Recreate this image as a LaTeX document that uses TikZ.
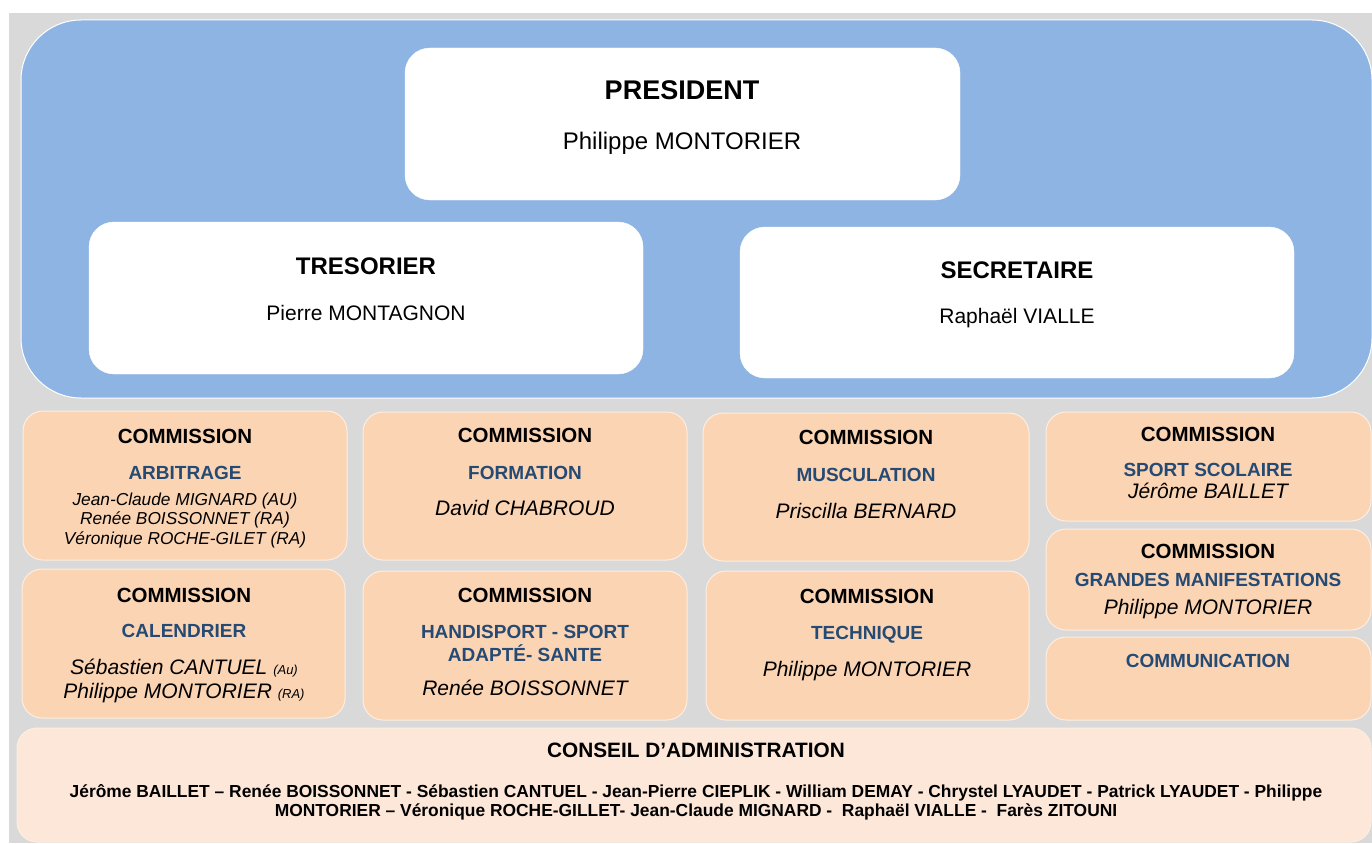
\documentclass[tikz,border=0pt]{standalone}
\usepackage{fontspec}
\setmainfont{Liberation Sans}
\usetikzlibrary{positioning}

\definecolor{bggray}{HTML}{D9D9D9}
\definecolor{boardblue}{HTML}{8EB4E3}
\definecolor{comorange}{HTML}{FBD4B4}
\definecolor{calight}{HTML}{FDE7D9}
\definecolor{navy}{HTML}{254A73}

\tikzset{
  wbox/.style={draw=white, fill=white, rounded corners=25pt},
  cbox/.style={draw=white!60!comorange, line width=1pt, fill=comorange, rounded corners=20pt},
  ttl/.style={anchor=base, font=\fontsize{20.5}{24}\selectfont\bfseries},
  sub/.style={anchor=base, text=navy, font=\fontsize{19}{23}\selectfont\bfseries},
  who/.style={anchor=base, font=\fontsize{21}{25}\selectfont\itshape},
  small/.style={anchor=base, font=\fontsize{17.3}{20}\selectfont\itshape},
  members/.style={anchor=base, font=\fontsize{17.4}{19}\selectfont\bfseries},
}

\begin{document}
\begin{tikzpicture}[x=1pt, y=-1pt, every node/.style={inner sep=0pt}]
    \useasboundingbox (0,0) rectangle (1372,843);
    \fill[white] (0,0) rectangle (1372,843);
    \fill[bggray] (9,13) rectangle (1372,843);

    % Bureau
    \node (board) [draw=white, line width=1pt, fill=boardblue, rounded corners=60pt,
        minimum width=1351pt, minimum height=378pt] at (696.5,209) {};
    % Top node
    \node (president) [wbox, minimum width=555pt, minimum height=152pt] at (682.5,124) {};
    \node (president-t) [anchor=base, font=\fontsize{27}{32}\selectfont\bfseries] at (682,99) {PRESIDENT};
    \node (president-n) [anchor=base, font=\fontsize{24}{28}\selectfont] at (682,149) {Philippe MONTORIER};
    % Left node
    \node (tresorier) [wbox, minimum width=554pt, minimum height=152pt] at (366,298) {};
    \node (tresorier-t) [anchor=base, font=\fontsize{24}{28}\selectfont\bfseries] at (366,274) {TRESORIER};
    \node (tresorier-n) [anchor=base, font=\fontsize{21}{25}\selectfont] at (366,320) {Pierre MONTAGNON};
    % Right node
    \node (secretaire) [wbox, minimum width=554pt, minimum height=151pt] at (1017,302.5) {};
    \node (secretaire-t) [anchor=base, font=\fontsize{24}{28}\selectfont\bfseries] at (1017,278) {SECRETAIRE};
    \node (secretaire-n) [anchor=base, font=\fontsize{21}{25}\selectfont] at (1017,323) {Raphaël VIALLE};

    % Commissions, first row
    \node (arbitrage) [cbox, minimum width=324pt, minimum height=149pt] at (185,485.5) {};
    \node (arbitrage-t) [ttl] at (185,443) {COMMISSION};
    \node (arbitrage-s) [sub] at (185,479) {ARBITRAGE};
    \node (arbitrage-n1) [small] at (185,505) {Jean-Claude MIGNARD (AU)};
    \node (arbitrage-n2) [small] at (185,524) {Renée BOISSONNET (RA)};
    \node (arbitrage-n3) [small] at (185,544) {Véronique ROCHE-GILET (RA)};

    \node (formation) [cbox, minimum width=324pt, minimum height=148pt] at (525,486) {};
    \node (formation-t) [ttl] at (525,442) {COMMISSION};
    \node (formation-s) [sub] at (525,479) {FORMATION};
    \node (formation-n) [who] at (525,515) {David CHABROUD};

    \node (musculation) [cbox, minimum width=326pt, minimum height=148pt] at (866,487) {};
    \node (musculation-t) [ttl] at (866,444) {COMMISSION};
    \node (musculation-s) [sub] at (866,481) {MUSCULATION};
    \node (musculation-n) [who] at (866,518) {Priscilla BERNARD};

    % Commissions, right column
    \node (scolaire) [cbox, minimum width=325pt, minimum height=109pt] at (1208.5,466.5) {};
    \node (scolaire-t) [ttl] at (1208,441) {COMMISSION};
    \node (scolaire-s) [sub] at (1208,476) {SPORT SCOLAIRE};
    \node (scolaire-n) [who] at (1208,498) {Jérôme BAILLET};

    \node (manif) [cbox, minimum width=325pt, minimum height=101pt] at (1208.5,579.5) {};
    \node (manif-t) [ttl] at (1208,558) {COMMISSION};
    \node (manif-s) [sub] at (1208,586) {GRANDES MANIFESTATIONS};
    \node (manif-n) [who] at (1208,614) {Philippe MONTORIER};

    \node (communication) [cbox, minimum width=325pt, minimum height=83pt] at (1208.5,678.5) {};
    \node (communication-t) [sub] at (1208,667) {COMMUNICATION};

    % Commissions, second row
    \node (calendrier) [cbox, minimum width=323pt, minimum height=149pt] at (183.5,643.5) {};
    \node (calendrier-t) [ttl] at (184,602) {COMMISSION};
    \node (calendrier-s) [sub] at (184,637) {CALENDRIER};
    \node (calendrier-n1) [who] at (184,674) {Sébastien CANTUEL {\fontsize{13}{15}\selectfont(Au)}};
    \node (calendrier-n2) [who] at (184,698) {Philippe MONTORIER {\fontsize{13}{15}\selectfont(RA)}};

    \node (handisport) [cbox, minimum width=324pt, minimum height=149pt] at (525,645.5) {};
    \node (handisport-t) [ttl] at (525,602) {COMMISSION};
    \node (handisport-s1) [sub] at (525,638) {HANDISPORT - SPORT};
    \node (handisport-s2) [sub] at (525,661) {ADAPTÉ- SANTE};
    \node (handisport-n) [who] at (525,695) {Renée BOISSONNET};

    \node (technique) [cbox, minimum width=323pt, minimum height=149pt] at (867.5,645.5) {};
    \node (technique-t) [ttl] at (867,603) {COMMISSION};
    \node (technique-s) [sub] at (867,639) {TECHNIQUE};
    \node (technique-n) [who] at (867,676) {Philippe MONTORIER};

    % Conseil d'administration
    \node (conseil) [cbox, fill=calight, minimum width=1354pt, minimum height=114pt] at (694,785) {};
    \node (conseil-t) [anchor=base, font=\fontsize{20.8}{24}\selectfont\bfseries] at (696,757) {CONSEIL D’ADMINISTRATION};
    \node (conseil-m1) [members] at (696,797)
        {Jérôme BAILLET – Renée BOISSONNET - Sébastien CANTUEL - Jean-Pierre CIEPLIK - William DEMAY - Chrystel LYAUDET - Patrick LYAUDET - Philippe};
    \node (conseil-m2) [members] at (696,816)
        {MONTORIER – Véronique ROCHE-GILLET- Jean-Claude MIGNARD - \ Raphaël VIALLE - \ Farès ZITOUNI};
\end{tikzpicture}
\end{document}
